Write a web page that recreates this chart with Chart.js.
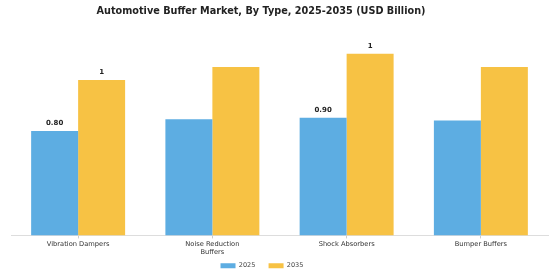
<!DOCTYPE html>
<html>
<head>
<meta charset="utf-8">
<script src="https://cdn.jsdelivr.net/npm/chart.js@4"></script>
<style>
  html, body { margin: 0; padding: 0; background: #ffffff; }
  #wrap { width: 560px; height: 280px; }
</style>
</head>
<body>
<div id="wrap"><canvas id="chart" width="560" height="280"></canvas></div>
<script>
const chartTitle = 'Automotive Buffer Market, By Type, 2025-2035 (USD Billion)';
const categories = ['Vibration Dampers', ['Noise Reduction', 'Buffers'], 'Shock Absorbers', 'Bumper Buffers'];
const seriesNames = ['2025', '2035'];
const values2025 = [0.80, 0.89, 0.90, 0.88];
const values2035 = [1.19, 1.29, 1.39, 1.29];
// value labels shown above bars (empty = no label)
const labels2025 = ['0.80', '', '0.90', ''];
const labels2035 = ['1', '', '1', ''];

// Title drawn a bit left of centre, as in the source image
const titlePlugin = {
    id: 'titlePlugin',
    afterDraw(chart) {
        const ctx = chart.ctx;
        ctx.save();
        ctx.font = 'bold 9.7px "DejaVu Sans"';
        ctx.fillStyle = '#222222';
        ctx.textAlign = 'center';
        ctx.textBaseline = 'middle';
        ctx.fillText(chartTitle, 261, 11);
        ctx.restore();
    }
};

// Draw value labels above selected bars
const barLabels = {
    id: 'barLabels',
    afterDatasetsDraw(chart) {
        const ctx = chart.ctx;
        const sets = [labels2025, labels2035];
        ctx.save();
        ctx.font = 'bold 7px "DejaVu Sans"';
        ctx.fillStyle = '#222222';
        ctx.textAlign = 'center';
        ctx.textBaseline = 'bottom';
        sets.forEach((texts, di) => {
            chart.getDatasetMeta(di).data.forEach((bar, i) => {
                if (texts[i]) ctx.fillText(texts[i], bar.x, bar.y - 4);
            });
        });
        ctx.restore();
    }
};

new Chart(document.getElementById('chart'), {
    type: 'bar',
    data: {
        labels: categories,
        datasets: [
            {
                label: seriesNames[0],
                data: values2025,
                backgroundColor: '#5dade2',
                categoryPercentage: 0.7,
                barPercentage: 1.0
            },
            {
                label: seriesNames[1],
                data: values2035,
                backgroundColor: '#f7c244',
                categoryPercentage: 0.7,
                barPercentage: 1.0
            }
        ]
    },
    options: {
        responsive: false,
        animation: false,
        layout: { padding: { left: 11, right: 12, top: 39.5, bottom: 1 } },
        plugins: {
            title: { display: false },
            legend: {
                position: 'bottom',
                labels: {
                    boxWidth: 15,
                    boxHeight: 5,
                    color: '#444444',
                    font: { family: 'DejaVu Sans', size: 6.5 },
                    padding: 5,
                    // trailing spaces widen the gap between items and nudge the legend left
                    generateLabels(chart) {
                        const items = Chart.defaults.plugins.legend.labels.generateLabels(chart);
                        items.forEach((it, i) => {
                            it.text = it.text + (i === items.length - 1 ? ' '.repeat(17) : '    ');
                        });
                        return items;
                    }
                }
            },
            tooltip: { enabled: false }
        },
        scales: {
            x: {
                grid: {
                    offset: false,
                    drawOnChartArea: false,
                    drawTicks: true,
                    tickLength: 3,
                    color: '#cccccc'
                },
                border: { display: true, color: '#dddddd' },
                ticks: {
                    color: '#333333',
                    font: { family: 'DejaVu Sans', size: 6.7 },
                    padding: 1.5,
                    maxRotation: 0
                }
            },
            y: {
                display: false,
                min: 0,
                max: 1.5
            }
        }
    },
    plugins: [barLabels, titlePlugin]
});
</script>
</body>
</html>
